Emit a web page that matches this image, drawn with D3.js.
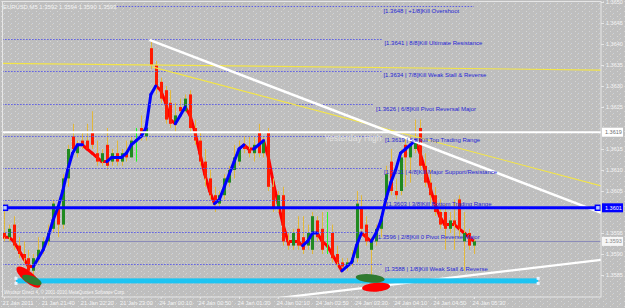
<!DOCTYPE html>
<html>
<head>
<meta charset="utf-8">
<title>EURUSD,M5</title>
<script src="https://d3js.org/d3.v7.min.js"></script>
<style>
body { margin: 0; background: #bebebe; }
svg { display: block; font-family: "Liberation Sans", Arial, sans-serif; }
</style>
</head>
<body>
<script>
var width = 625, height = 308;

// M5 candles, oldest first (21 Jan 2011 21:00 .. 24 Jan 05:30)
var opens = [1.3595,1.3594,1.3597,1.3592,1.3590,1.3589,1.3586,1.3589,1.3591,1.3593,
  1.3596,1.3601,1.3597,1.3608,1.3618,1.3614,1.3617,1.3617,1.3619,1.3614,
  1.3612,1.3616,1.3612,1.3614,1.3612,1.3614,1.3613,1.3617,1.3620,1.3618,
  1.3639,1.3635,1.3631,1.3629,1.3626,1.3621,1.3625,1.3624,1.3628,1.3620,
  1.3617,1.3612,1.3608,1.3604,1.3602,1.3604,1.3607,1.3610,1.3612,1.3616,
  1.3615,1.3614,1.3619,1.3614,1.3619,1.3606,1.3601,1.3604,1.3593,1.3592,
  1.3596,1.3594,1.3592,1.3591,1.3598,1.3596,1.3592,1.3595,1.3590,1.3588,
  1.3587,1.3588,1.3589,1.3601,1.3597,1.3591,1.3593,1.3596,1.3603,1.3612,
  1.3605,1.3605,1.3616,1.3613,1.3615,1.3620,1.3611,1.3607,1.3604,1.3600,
  1.3600,1.3596,1.3598,1.3603,1.3593,1.3595,1.3592];
var highs = [1.3602,1.3597,1.3599,1.3594,1.3593,1.3591,1.3590,1.3594,1.3594,1.3597,
  1.3603,1.3602,1.3609,1.3616,1.3621,1.3617,1.3619,1.3621,1.3624,1.3617,
  1.3615,1.3620,1.3615,1.3617,1.3615,1.3617,1.3618,1.3620,1.3623,1.3621,
  1.3641,1.3636,1.3632,1.3630,1.3629,1.3626,1.3627,1.3628,1.3629,1.3622,
  1.3619,1.3615,1.3610,1.3606,1.3605,1.3609,1.3611,1.3616,1.3617,1.3618,
  1.3618,1.3618,1.3621,1.3618,1.3620,1.3608,1.3605,1.3606,1.3595,1.3596,
  1.3599,1.3599,1.3597,1.3600,1.3599,1.3600,1.3600,1.3597,1.3592,1.3589,
  1.3589,1.3591,1.3605,1.3604,1.3599,1.3594,1.3597,1.3600,1.3611,1.3615,
  1.3608,1.3615,1.3618,1.3618,1.3622,1.3622,1.3614,1.3610,1.3606,1.3603,
  1.3602,1.3600,1.3603,1.3604,1.3600,1.3596,1.3594];
var lows = [1.3593,1.3593,1.3591,1.3589,1.3588,1.3585,1.3585,1.3588,1.3590,1.3592,
  1.3595,1.3594,1.3596,1.3606,1.3614,1.3613,1.3615,1.3615,1.3615,1.3611,
  1.3611,1.3610,1.3611,1.3611,1.3611,1.3612,1.3613,1.3612,1.3617,1.3617,
  1.3634,1.3628,1.3626,1.3621,1.3620,1.3619,1.3623,1.3624,1.3619,1.3616,
  1.3611,1.3606,1.3603,1.3600,1.3601,1.3603,1.3606,1.3608,1.3611,1.3614,
  1.3613,1.3612,1.3613,1.3613,1.3605,1.3600,1.3600,1.3592,1.3591,1.3591,
  1.3591,1.3590,1.3591,1.3590,1.3593,1.3590,1.3590,1.3588,1.3587,1.3586,
  1.3586,1.3587,1.3588,1.3594,1.3592,1.3583,1.3592,1.3594,1.3601,1.3604,
  1.3603,1.3604,1.3606,1.3607,1.3614,1.3610,1.3606,1.3602,1.3599,1.3596,
  1.3591,1.3595,1.3591,1.3594,1.3586,1.3591,1.3590];
var closes = [1.3594,1.3596,1.3592,1.3590,1.3589,1.3586,1.3589,1.3591,1.3593,1.3595,
  1.3602,1.3597,1.3608,1.3615,1.3615,1.3616,1.3616,1.3615,1.3616,1.3612,
  1.3614,1.3611,1.3614,1.3612,1.3614,1.3613,1.3617,1.3617,1.3618,1.3620,
  1.3635,1.3630,1.3627,1.3622,1.3621,1.3623,1.3624,1.3627,1.3620,1.3617,
  1.3612,1.3608,1.3604,1.3602,1.3604,1.3608,1.3610,1.3613,1.3615,1.3615,
  1.3614,1.3616,1.3614,1.3617,1.3606,1.3601,1.3604,1.3593,1.3592,1.3595,
  1.3592,1.3591,1.3595,1.3599,1.3594,1.3591,1.3592,1.3589,1.3588,1.3587,
  1.3588,1.3589,1.3602,1.3596,1.3593,1.3593,1.3596,1.3599,1.3609,1.3605,
  1.3604,1.3613,1.3613,1.3616,1.3617,1.3611,1.3607,1.3604,1.3600,1.3597,
  1.3596,1.3598,1.3597,1.3596,1.3595,1.3592,1.3593];

// trend indicator (blue up / red down)
var trend = [1.3594,1.3594,1.3593,1.3591,1.3589,1.3587,1.3587,1.3589,1.3591,1.3594,
  1.3598,1.3601,1.3605,1.3610,1.3614,1.3616,1.3616,1.3615,1.3614,1.3613,
  1.3612,1.3612,1.3613,1.3613,1.3613,1.3614,1.3616,1.3617,1.3618,1.3620,
  1.3628,1.3630,1.3629,1.3626,1.3622,1.3621,1.3623,1.3625,1.3623,1.3619,
  1.3614,1.3609,1.3605,1.3602,1.3603,1.3606,1.3609,1.3612,1.3615,1.3616,
  1.3615,1.3615,1.3616,1.3617,1.3613,1.3607,1.3602,1.3597,1.3593,1.3593,
  1.3593,1.3592,1.3593,1.3595,1.3595,1.3593,1.3592,1.3590,1.3588,1.3586,
  1.3587,1.3588,1.3592,1.3595,1.3594,1.3593,1.3595,1.3598,1.3603,1.3607,
  1.3610,1.3614,1.3615,1.3616,1.3617,1.3614,1.3610,1.3606,1.3602,1.3599,
  1.3597,1.3597,1.3597,1.3596,1.3595,1.3594,1.3593];

var timeBars = [0, 8, 16, 24, 32, 40, 48, 56, 64, 72, 80, 88, 96];
var timeLabels = ["21 Jan 2011", "21 Jan 21:40", "21 Jan 22:20", "21 Jan 23:00",
  "24 Jan 00:10", "24 Jan 00:50", "24 Jan 01:30", "24 Jan 02:10", "24 Jan 02:50",
  "24 Jan 03:30", "24 Jan 04:10", "24 Jan 04:50", "24 Jan 05:30"];
var priceTicks = [1.3650, 1.3645, 1.3640, 1.3635, 1.3630, 1.3625, 1.3620,
  1.3615, 1.3610, 1.3605, 1.3600, 1.3595, 1.3590, 1.3585];

// Murrey math levels
var mmLevels = [1.36490, 1.36412, 1.36336, 1.36257, 1.36181, 1.36105, 1.36029, 1.35952, 1.35876];
var mmLabels = ["[1.3648 | +1/8]Kill Overshoot", "[1.3641 | 8/8]Kill Ultimate Resistance",
  "[1.3634 | 7/8]Kill Weak Stall & Reverse", "[1.3626 | 6/8]Kill Pivot Reversal Major",
  "[1.3619 | 5/8]Kill Top Trading Range", "[1.3611 | 4/8]Kill Major Support/Resistance",
  "[1.3603 | 3/8]Kill Bottom Trading Range", "[1.3596 | 2/8]Kill 0 Pivot Reverse Major",
  "[1.3588 | 1/8]Kill Weak Stall & Reverse"];
var mmStartBar = [23, -1, -1, -1, -1, -1, -1, -1, -1];
var mmEndBar = [96, 77.3, 77.1, 75.6, 77.4, 77.2, 77.8, 75.6, 77.4];
var mmLabelBar = [77.5, 77.7, 77.5, 76.0, 77.8, 77.6, 78.2, 76.0, 77.8];

var header = "EURUSD,M5  1.3592 1.3594 1.3590 1.3593";
var copyright = "Windsor Direct 4, \u00a9 2001-2010 MetaQuotes Software Corp.";
var yesterdayHigh = 1.3619, levelBlue = 1.3601, bid = 1.3593;

var x = d3.scaleLinear().domain([0, 96]).range([4, 474]);
var y = d3.scaleLinear().domain([1.3585, 1.3650]).range([275, 2]);

var svg = d3.select("body").append("svg")
    .attr("width", width)
    .attr("height", height);

// dithered grey background
var defs = svg.append("defs");
var pat = defs.append("pattern").attr("id", "grain")
    .attr("width", 7).attr("height", 5).attr("patternUnits", "userSpaceOnUse");
pat.append("rect").attr("width", 7).attr("height", 5).attr("fill", "#bebebe");
[[1, 1, "#d6d6d6"], [4, 3, "#ccd2dc"], [3, 4, "#d4cec2"]].forEach(function(p) {
    pat.append("rect").attr("x", p[0]).attr("y", p[1]).attr("width", 1).attr("height", 1).attr("fill", p[2]);
});
defs.append("clipPath").attr("id", "plotclip")
    .append("rect").attr("x", 2).attr("y", 2).attr("width", 599).attr("height", 295);

svg.append("rect").attr("width", width).attr("height", height).attr("fill", "url(#grain)");

var plot = svg.append("g").attr("clip-path", "url(#plotclip)");

// bid line
plot.append("line")
    .attr("x1", 2).attr("x2", 601)
    .attr("y1", Math.round(y(bid)) + 0.5).attr("y2", Math.round(y(bid)) + 0.5)
    .attr("stroke", "#8c8cb8").attr("stroke-width", 1);

// trend indicator segments, coloured by direction
var segs = [], col = "#ff0000";
for (var i = 1; i < trend.length; i++) {
    if (trend[i] > trend[i - 1]) col = "#0000ff";
    else if (trend[i] < trend[i - 1]) col = "#ff0000";
    segs.push({ a: i - 1, b: i, c: col });
}
function drawTrend(g, list) {
    g.selectAll("line")
        .data(list).enter().append("line")
        .attr("x1", function(d) { return x(d.a); })
        .attr("y1", function(d) { return y(trend[d.a]); })
        .attr("x2", function(d) { return x(d.b); })
        .attr("y2", function(d) { return y(trend[d.b]); })
        .attr("stroke", function(d) { return d.c; })
        .attr("stroke-width", 3)
        .attr("stroke-linecap", "round");
}
drawTrend(plot.append("g"), segs.filter(function(s) { return s.c === "#ff0000"; }));

// candles
var bars = d3.range(opens.length);
plot.append("g").selectAll("line")
    .data(bars).enter().append("line")
    .attr("x1", function(i) { return Math.round(x(i)) + 0.5; })
    .attr("x2", function(i) { return Math.round(x(i)) + 0.5; })
    .attr("y1", function(i) { return y(highs[i]); })
    .attr("y2", function(i) { return y(lows[i]); })
    .attr("stroke", function(i) { return opens[i] === closes[i] ? "#22ff22" : "#e2b83c"; })
    .attr("stroke-width", 1);

plot.append("g").selectAll("rect")
    .data(bars.filter(function(i) { return opens[i] !== closes[i]; }))
    .enter().append("rect")
    .attr("x", function(i) { return Math.round(x(i)) - 1; })
    .attr("width", 3)
    .attr("y", function(i) { return y(Math.max(opens[i], closes[i])); })
    .attr("height", function(i) { return Math.max(1, Math.abs(y(opens[i]) - y(closes[i]))); })
    .attr("fill", function(i) { return closes[i] > opens[i] ? "#208a20" : "#ff1a00"; });

drawTrend(plot.append("g"), segs.filter(function(s) { return s.c === "#0000ff"; }));

// murrey dotted lines
plot.append("g").selectAll("line")
    .data(mmLevels).enter().append("line")
    .attr("x1", function(d, i) { return x(mmStartBar[i]); })
    .attr("x2", function(d, i) { return x(mmEndBar[i]); })
    .attr("y1", function(d) { return Math.round(y(d)) + 0.5; })
    .attr("y2", function(d) { return Math.round(y(d)) + 0.5; })
    .attr("stroke", "#5c5ce6")
    .attr("stroke-width", 1.2)
    .attr("stroke-dasharray", "1.5,1.5");

// trend lines
var tl = [
    { x1: -1, p1: 1.36354, x2: 122, p2: 1.36338, c: "#f2e448", w: 1.2 },
    { x1: 30.4, p1: 1.36345, x2: 122, p2: 1.36062, c: "#f2e448", w: 1.1 },
    { x1: 29.7, p1: 1.36410, x2: 122, p2: 1.35998, c: "#ffffff", w: 2.5 },
    { x1: 40, p1: 1.35773, x2: 122, p2: 1.35886, c: "#ffffff", w: 2.2 }
];
plot.append("g").selectAll("line")
    .data(tl).enter().append("line")
    .attr("x1", function(d) { return x(d.x1); })
    .attr("y1", function(d) { return y(d.p1); })
    .attr("x2", function(d) { return x(d.x2); })
    .attr("y2", function(d) { return y(d.p2); })
    .attr("stroke", function(d) { return d.c; })
    .attr("stroke-width", function(d) { return d.w; });

// yesterday high
plot.append("line")
    .attr("x1", 2).attr("x2", 601)
    .attr("y1", y(yesterdayHigh)).attr("y2", y(yesterdayHigh))
    .attr("stroke", "#ffffff").attr("stroke-width", 2);

// blue level with handles
plot.append("line")
    .attr("x1", x(0.2)).attr("x2", x(121.3))
    .attr("y1", y(levelBlue)).attr("y2", y(levelBlue))
    .attr("stroke", "#0000ff").attr("stroke-width", 3);
[0.2, 121.3].forEach(function(b) {
    plot.append("rect")
        .attr("x", x(b) - 2.5).attr("y", y(levelBlue) - 2.5)
        .attr("width", 5).attr("height", 5)
        .attr("fill", "#b8c8ff").attr("stroke", "#0000ff").attr("stroke-width", 1.5);
});

// cyan rectangle
var cyanTop = 1.35842, cyanBottom = 1.35830;
plot.append("rect")
    .attr("x", x(2.45)).attr("width", x(109.1) - x(2.45))
    .attr("y", y(cyanTop)).attr("height", y(cyanBottom) - y(cyanTop))
    .attr("fill", "#1ec4f2");
[2.45, 109.1].forEach(function(b) {
    [cyanTop, cyanBottom].forEach(function(p) {
        plot.append("rect").attr("x", x(b) - 1.5).attr("y", y(p) - 1.5)
            .attr("width", 3).attr("height", 3).attr("fill", "#e8f4ff");
    });
});

// ellipses
var ells = [
    { bar: 5.0, p: 1.35845, rx: 15, ry: 5.5, a: 40, c: "#ff0000" },
    { bar: 5.7, p: 1.35838, rx: 10.5, ry: 4, a: 22, c: "#2f7a30" },
    { bar: 76.0, p: 1.35821, rx: 14, ry: 4.5, a: -4, c: "#ff0000" },
    { bar: 74.8, p: 1.35842, rx: 14.5, ry: 4.2, a: 5, c: "#2f7a30" }
];
plot.append("g").selectAll("ellipse")
    .data(ells).enter().append("ellipse")
    .attr("transform", function(d) { return "translate(" + x(d.bar) + "," + y(d.p) + ")rotate(" + d.a + ")"; })
    .attr("rx", function(d) { return d.rx; })
    .attr("ry", function(d) { return d.ry; })
    .attr("fill", function(d) { return d.c; });

// texts
plot.append("text")
    .attr("x", x(65.4)).attr("y", y(yesterdayHigh) + 9)
    .attr("font-size", 8.5).attr("fill", "#e2e2e2")
    .text("Yesterday High");

plot.append("g").selectAll("text")
    .data(mmLabels).enter().append("text")
    .attr("x", function(d, i) { return x(mmLabelBar[i]); })
    .attr("y", function(d, i) { return y(mmLevels[i]) + 6.5; })
    .attr("font-size", 6)
    .attr("fill", "#2626d6")
    .text(function(d) { return d; });

svg.append("text").attr("x", 3).attr("y", 8.5)
    .attr("font-size", 5.9).attr("fill", "#f4f4f4").text(header);
svg.append("text").attr("x", 4).attr("y", 294)
    .attr("font-size", 4.6).attr("fill", "#f4f4f4").text(copyright);

// frame
svg.append("rect").attr("x", 2.5).attr("y", 1.5).attr("width", 598.5).attr("height", 295.5)
    .attr("fill", "none").attr("stroke", "#e6e6e6").attr("stroke-width", 1);

// price axis; tick labels under a boxed marker are left out
var marks = [
    { p: yesterdayHigh, bg: "#ffffff", fg: "#707070" },
    { p: levelBlue, bg: "#0000ff", fg: "#ffffff" },
    { p: bid, bg: "#f6f6f6", fg: "#8a8a8a" }
];
var shownTicks = priceTicks.filter(function(t) {
    return marks.every(function(m) { return Math.abs(y(t) - y(m.p)) > 6; });
});
var yAxis = d3.axisRight(y).tickValues(shownTicks)
    .tickFormat(d3.format(".4f")).tickSize(3).tickPadding(2);
var ya = svg.append("g").attr("transform", "translate(601,0)").call(yAxis);
ya.select(".domain").remove();
ya.selectAll("line").attr("stroke", "#e6e6e6");
ya.selectAll("text").attr("fill", "#f4f4f4").attr("font-size", 5.5)
    .attr("font-family", "Liberation Sans, Arial, sans-serif");

// time axis
var xAxis = d3.axisBottom(x).tickValues(timeBars)
    .tickFormat(function(d, i) { return timeLabels[i]; }).tickSize(2).tickPadding(2);
var xa = svg.append("g").attr("transform", "translate(0,297)").call(xAxis);
xa.select(".domain").remove();
xa.selectAll("line").attr("stroke", "#e6e6e6");
xa.selectAll("text").attr("fill", "#f4f4f4").attr("font-size", 5.7)
    .attr("text-anchor", "start").attr("x", -2)
    .attr("font-family", "Liberation Sans, Arial, sans-serif");

// boxed price markers
var mg = svg.append("g").selectAll("g").data(marks).enter().append("g")
    .attr("transform", function(d) { return "translate(602," + y(d.p) + ")"; });
mg.append("rect").attr("x", 0).attr("y", -4.5).attr("width", 21).attr("height", 9)
    .attr("fill", function(d) { return d.bg; });
mg.append("text").attr("x", 3).attr("y", 2)
    .attr("font-size", 5.5)
    .attr("fill", function(d) { return d.fg; })
    .text(function(d) { return d3.format(".4f")(d.p); });
</script>
</body>
</html>
